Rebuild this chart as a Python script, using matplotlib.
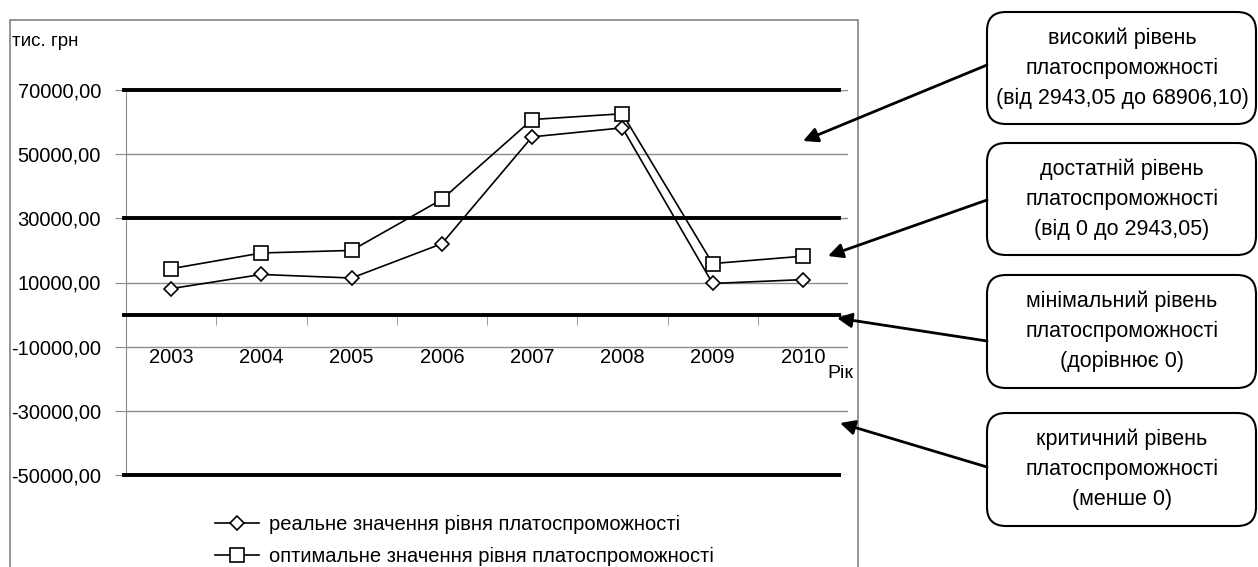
import numpy as np
import matplotlib
matplotlib.use('Agg')
import matplotlib.pyplot as plt
from matplotlib.patches import FancyBboxPatch, FancyArrowPatch, Rectangle

plt.rcParams['font.family'] = ['Liberation Sans', 'DejaVu Sans']

years = ['2003', '2004', '2005', '2006', '2007', '2008', '2009', '2010']
real_vals = [8100, 12500, 11400, 22100, 55400, 58200, 9700, 10900]
opt_vals = [14300, 19200, 20000, 35900, 60800, 62600, 15900, 18200]
levels = [70000, 30000, 0, -50000]
y_ticks = [70000, 50000, 30000, 10000, -10000, -30000, -50000]
legend_labels = ['реальне значення рівня платоспроможності',
                 'оптимальне значення рівня платоспроможності']
box_texts = ['високий рівень\nплатоспроможності\n(від 2943,05 до 68906,10)',
             'достатній рівень\nплатоспроможності\n(від 0 до 2943,05)',
             'мінімальний рівень\nплатоспроможності\n(дорівнює 0)',
             'критичний рівень\nплатоспроможності\n(менше 0)']

W, H = 1258, 567
fig = plt.figure(figsize=(W / 100, H / 100), dpi=100)


def fx(px):
    return px / W


def fy(py):
    return 1 - py / H


# outer chart frame
fig.patches.append(Rectangle((fx(10), fy(600)), fx(858) - fx(10), fy(20) - fy(600),
                             transform=fig.transFigure, fill=False,
                             edgecolor='#8c8c8c', lw=1.3))

ax = fig.add_axes([fx(126), fy(475), fx(848) - fx(126), fy(90) - fy(475)])
x = np.arange(len(years))

ax.set_xlim(-0.5, len(years) - 0.5)
ax.set_ylim(-50000, 70000)
ax.set_yticks(y_ticks)
ax.set_yticklabels(['%d,00' % v for v in y_ticks], fontsize=14.5)
ax.yaxis.grid(True, color='#8c8c8c', lw=1)
ax.tick_params(axis='y', length=8, color='#8c8c8c', pad=10)

ax.spines['top'].set_visible(False)
ax.spines['right'].set_visible(False)
ax.spines['left'].set_color('#8c8c8c')
ax.spines['bottom'].set_color('#8c8c8c')
ax.spines['bottom'].set_position(('data', 0))

ax.set_xticks(x)
ax.set_xticklabels(years, fontsize=14.5)
ax.set_xticks(np.arange(len(years) + 1) - 0.5, minor=True)
ax.tick_params(axis='x', which='major', length=0, pad=24)
ax.tick_params(axis='x', which='minor', length=7, color='#8c8c8c', direction='out')

ax.hlines(levels, -0.545, 7.42, color='black', lw=2.8, clip_on=False, zorder=3)

l1, = ax.plot(x, real_vals, color='black', lw=1.2, marker='D', ms=7.5,
              mfc='white', mec='black', mew=1.2, zorder=4)
l2, = ax.plot(x, opt_vals, color='black', lw=1.2, marker='s', ms=10.5,
              mfc='white', mec='black', mew=1.2, zorder=4)

fig.text(fx(12), fy(41), 'тис. грн', fontsize=13.5, ha='left', va='center')
fig.text(fx(840), fy(373), 'Рік', fontsize=14, ha='center', va='center')

fig.legend([l1, l2], legend_labels, loc='upper left',
           bbox_to_anchor=(fx(205), fy(505)), frameon=False, fontsize=14.5,
           handlelength=2.2, handletextpad=0.5, labelspacing=0.65, borderpad=0)

# callout boxes and arrows
boxes = [(12, 124), (143, 255), (275, 388), (413, 526)]
starts = [(987, 65), (987, 200), (987, 341), (987, 467)]
tips = [(803, 141), (828, 256), (837, 318), (840, 423)]
for (top, bot), txt, s, t in zip(boxes, box_texts, starts, tips):
    fig.patches.append(FancyBboxPatch((fx(987), fy(bot)), fx(1256) - fx(987), fy(top) - fy(bot),
                                      boxstyle='round,pad=0,rounding_size=0.015',
                                      transform=fig.transFigure, facecolor='white',
                                      edgecolor='black', lw=1.5, mutation_aspect=W / H))
    fig.text(fx(1122), fy((top + bot) / 2), txt, fontsize=15.5, ha='center', va='center',
             linespacing=1.55)
    fig.patches.append(FancyArrowPatch((fx(s[0]), fy(s[1])), (fx(t[0]), fy(t[1])),
                                       transform=fig.transFigure, arrowstyle='-|>',
                                       mutation_scale=22, color='black', lw=2,
                                       shrinkA=0, shrinkB=0))

fig.savefig('out.png', dpi=100)
